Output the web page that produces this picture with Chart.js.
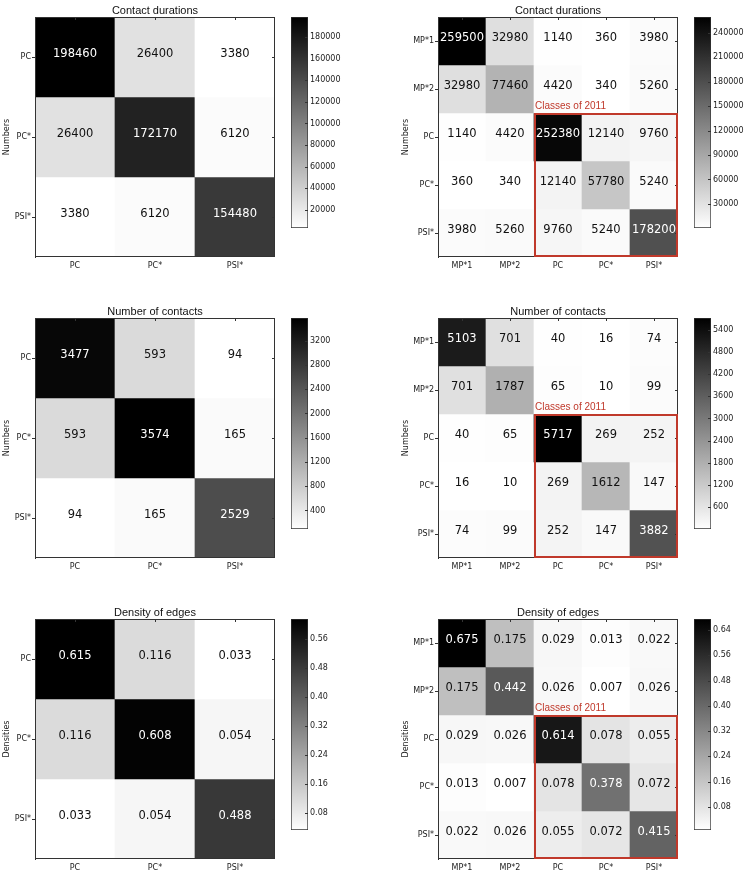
<!DOCTYPE html>
<html>
<head>
<meta charset="utf-8">
<script src="https://cdn.jsdelivr.net/npm/chart.js@4.4.1/dist/chart.umd.min.js"></script>
<style>
body { margin: 0; background: #fff; width: 750px; height: 875px; position: relative; overflow: hidden; }
canvas { position: absolute; }
</style>
</head>
<body>
<script>
// categories
var cats3 = ['PC', 'PC*', 'PSI*'];
var cats5 = ['MP*1', 'MP*2', 'PC', 'PC*', 'PSI*'];

// matrices (rows top to bottom)
var durations3 = [[198460, 26400, 3380], [26400, 172170, 6120], [3380, 6120, 154480]];
var durations5 = [
    [259500, 32980, 1140, 360, 3980],
    [32980, 77460, 4420, 340, 5260],
    [1140, 4420, 252380, 12140, 9760],
    [360, 340, 12140, 57780, 5240],
    [3980, 5260, 9760, 5240, 178200]
];
var contacts3 = [[3477, 593, 94], [593, 3574, 165], [94, 165, 2529]];
var contacts5 = [
    [5103, 701, 40, 16, 74],
    [701, 1787, 65, 10, 99],
    [40, 65, 5717, 269, 252],
    [16, 10, 269, 1612, 147],
    [74, 99, 252, 147, 3882]
];
var density3 = [[0.615, 0.116, 0.033], [0.116, 0.608, 0.054], [0.033, 0.054, 0.488]];
var density5 = [
    [0.675, 0.175, 0.029, 0.013, 0.022],
    [0.175, 0.442, 0.026, 0.007, 0.026],
    [0.029, 0.026, 0.614, 0.078, 0.055],
    [0.013, 0.007, 0.078, 0.378, 0.072],
    [0.022, 0.026, 0.055, 0.072, 0.415]
];

// colorbar tick labels
var cbDur3 = [20000, 40000, 60000, 80000, 100000, 120000, 140000, 160000, 180000];
var cbDur5 = [30000, 60000, 90000, 120000, 150000, 180000, 210000, 240000];
var cbCon3 = [400, 800, 1200, 1600, 2000, 2400, 2800, 3200];
var cbCon5 = [600, 1200, 1800, 2400, 3000, 3600, 4200, 4800, 5400];
var cbDen3 = [0.08, 0.16, 0.24, 0.32, 0.40, 0.48, 0.56];
var cbDen5 = [0.08, 0.16, 0.24, 0.32, 0.40, 0.48, 0.56, 0.64];

var boxLabel = 'Classes of 2011';
var boxColor = '#c0392b';

function grey(t) {
    var g = Math.round(255 * (1 - t));
    return 'rgb(' + g + ',' + g + ',' + g + ')';
}

function addCanvas(left, top, w, h) {
    var cv = document.createElement('canvas');
    cv.width = w; cv.height = h;
    cv.style.left = left + 'px';
    cv.style.top = top + 'px';
    document.body.appendChild(cv);
    return cv;
}

function cellPlugin(vals, digits, lo, hi, box) {
    return {
        id: 'cells',
        afterDatasetsDraw(chart) {
            var ctx = chart.ctx, a = chart.chartArea;
            var xs = chart.scales.x, ys = chart.scales.y;
            var n = vals.length;
            ctx.save();
            ctx.font = '11.5px "DejaVu Sans"';
            ctx.textAlign = 'center';
            ctx.textBaseline = 'middle';
            vals.forEach((row, r) => {
                var meta = chart.getDatasetMeta(r);
                row.forEach((v, c) => {
                    var el = meta.data[c];
                    ctx.fillStyle = (v - lo) / (hi - lo) > 0.5 ? '#fff' : '#111';
                    ctx.fillText(digits ? v.toFixed(digits) : String(v), el.x, (el.y + el.base) / 2 - 3);
                });
            });
            // frame and inward ticks
            ctx.strokeStyle = '#333';
            ctx.lineWidth = 1;
            ctx.strokeRect(a.left + 0.5, a.top + 0.5, a.width - 1, a.height - 1);
            ctx.beginPath();
            for (let i = 0; i < n; i++) {
                let x = Math.round(xs.getPixelForTick(i)) + 0.5;
                ctx.moveTo(x, a.top); ctx.lineTo(x, a.top + 3);
                let y = Math.round(ys.getPixelForValue(i + 0.5)) + 0.5;
                ctx.moveTo(a.right, y); ctx.lineTo(a.right - 3, y);
            }
            ctx.stroke();
            if (box) {
                var x0 = xs.getPixelForValue(box - 0.5), x1 = xs.getPixelForValue(n - 0.5);
                var y0 = ys.getPixelForValue(box), y1 = ys.getPixelForValue(n);
                ctx.strokeStyle = boxColor;
                ctx.lineWidth = 2;
                ctx.strokeRect(x0 + 1, y0 + 1, x1 - x0 - 2, y1 - y0 - 2);
                ctx.fillStyle = boxColor;
                ctx.font = '10px "Liberation Sans"';
                ctx.textAlign = 'left';
                ctx.textBaseline = 'alphabetic';
                ctx.fillText(boxLabel, x0 + 1, y0 - 4);
            }
            ctx.restore();
        }
    };
}

function heatmap(plotLeft, plotTop, yW, yTitlePad, title, yTitle, cats, vals, digits, box) {
    var n = cats.length;
    var flat = [].concat(...vals);
    var lo = Math.min(...flat), hi = Math.max(...flat);
    var cv = addCanvas(plotLeft - yW, plotTop - 17, yW + 244, 279);
    var datasets = vals.map((row, r) => ({
        label: cats[r],
        data: row.map(() => 1),
        backgroundColor: row.map(v => grey((v - lo) / (hi - lo))),
        borderWidth: 0,
        barPercentage: 1,
        categoryPercentage: 1,
        stack: 'm'
    }));
    new Chart(cv, {
        type: 'bar',
        data: {labels: cats, datasets: datasets},
        options: {
            responsive: false,
            animation: false,
            events: [],
            layout: {padding: {left: 0, right: 4, top: 0, bottom: 0}},
            plugins: {
                legend: {display: false},
                tooltip: {enabled: false},
                title: {
                    display: true, text: title, fullSize: false, color: '#111',
                    font: {family: 'Liberation Sans', size: 11, weight: 'normal', lineHeight: 1},
                    padding: {top: 5, bottom: 1}
                }
            },
            scales: {
                x: {
                    stacked: true,
                    grid: {display: false, drawTicks: false},
                    border: {display: false},
                    ticks: {color: '#222', font: {family: 'DejaVu Sans', size: 8}, padding: 4, maxRotation: 0},
                    afterFit: s => { s.height = 22; s.paddingLeft = 0; s.paddingRight = 0; }
                },
                y: {
                    stacked: true, reverse: true, min: 0, max: n,
                    afterBuildTicks: s => { s.ticks = cats.map((c, i) => ({value: i + 0.5})); },
                    ticks: {
                        autoSkip: false, padding: 1, color: '#222',
                        font: {family: 'DejaVu Sans', size: 8},
                        callback: (v, i) => cats[i]
                    },
                    grid: {drawOnChartArea: false, drawTicks: true, tickLength: 3, color: '#333'},
                    border: {display: true, color: '#333'},
                    title: {
                        display: true, text: yTitle, color: '#222',
                        font: {family: 'DejaVu Sans', size: 8},
                        padding: {top: yTitlePad, bottom: 0}
                    },
                    afterFit: s => { s.width = yW; s.paddingTop = 0; s.paddingBottom = 0; }
                }
            }
        },
        plugins: [cellPlugin(vals, digits, lo, hi, box)]
    });
    return [lo, hi];
}

function colorbar(left, top, range, tickVals, digits) {
    var lo = range[0], hi = range[1];
    var cv = addCanvas(left, top, 65, 230);
    new Chart(cv, {
        type: 'bar',
        data: {
            labels: [''],
            datasets: [{
                data: [[lo, hi]],
                backgroundColor: c => {
                    var a = c.chart.chartArea;
                    if (!a) return '#888';
                    var g = c.chart.ctx.createLinearGradient(0, a.bottom, 0, a.top);
                    g.addColorStop(0, '#fff');
                    g.addColorStop(1, '#000');
                    return g;
                },
                borderColor: '#333',
                borderWidth: 1,
                borderSkipped: false,
                barPercentage: 1,
                categoryPercentage: 1
            }]
        },
        options: {
            responsive: false,
            animation: false,
            events: [],
            layout: {padding: {left: 6, right: 0, top: 17, bottom: 2}},
            plugins: {legend: {display: false}, tooltip: {enabled: false}},
            scales: {
                x: {display: false},
                y: {
                    position: 'right', min: lo, max: hi,
                    grid: {display: false, drawTicks: false},
                    border: {display: false},
                    afterBuildTicks: s => { s.ticks = tickVals.map(v => ({value: v})); },
                    ticks: {
                        autoSkip: false, padding: 2, color: '#222',
                        font: {family: 'DejaVu Sans', size: 8},
                        callback: v => digits ? v.toFixed(digits) : String(v)
                    },
                    afterFit: s => { s.width = 42; s.paddingTop = 0; s.paddingBottom = 0; }
                }
            }
        },
        plugins: [{
            id: 'cbticks',
            afterDatasetsDraw(chart) {
                var ctx = chart.ctx, a = chart.chartArea, ys = chart.scales.y;
                ctx.save();
                ctx.strokeStyle = '#333';
                ctx.beginPath();
                tickVals.forEach(v => {
                    var y = Math.round(ys.getPixelForValue(v)) + 0.5;
                    ctx.moveTo(a.right, y); ctx.lineTo(a.right - 3, y);
                });
                ctx.stroke();
                ctx.restore();
            }
        }]
    });
}

var rowTops = [17, 318, 619];
var r;

r = heatmap(35, rowTops[0], 35, 2, 'Contact durations', 'Numbers', cats3, durations3, 0, 0);
colorbar(285, rowTops[0] - 17, r, cbDur3, 0);
r = heatmap(438, rowTops[0], 63, 26, 'Contact durations', 'Numbers', cats5, durations5, 0, 2);
colorbar(688, rowTops[0] - 17, r, cbDur5, 0);

r = heatmap(35, rowTops[1], 35, 2, 'Number of contacts', 'Numbers', cats3, contacts3, 0, 0);
colorbar(285, rowTops[1] - 17, r, cbCon3, 0);
r = heatmap(438, rowTops[1], 63, 26, 'Number of contacts', 'Numbers', cats5, contacts5, 0, 2);
colorbar(688, rowTops[1] - 17, r, cbCon5, 0);

r = heatmap(35, rowTops[2], 35, 2, 'Density of edges', 'Densities', cats3, density3, 3, 0);
colorbar(285, rowTops[2] - 17, r, cbDen3, 2);
r = heatmap(438, rowTops[2], 63, 26, 'Density of edges', 'Densities', cats5, density5, 3, 2);
colorbar(688, rowTops[2] - 17, r, cbDen5, 2);
</script>
</body>
</html>
